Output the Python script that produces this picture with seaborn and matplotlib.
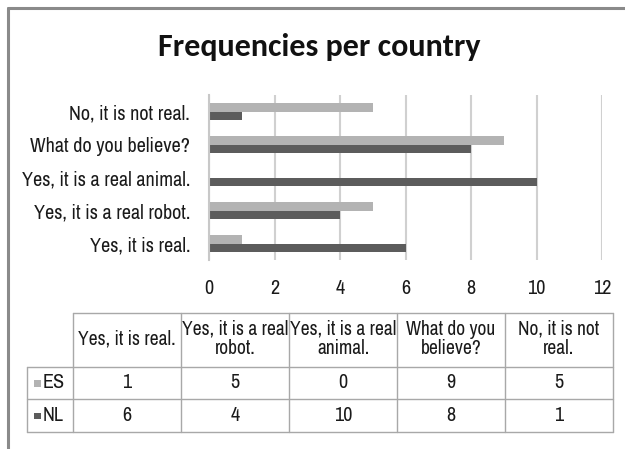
import textwrap
import matplotlib
matplotlib.use("Agg")
import matplotlib.pyplot as plt
from matplotlib.lines import Line2D
from matplotlib.patches import Rectangle
import numpy as np
import pandas as pd
import seaborn as sns

# Answers in table order (the bar chart lists them bottom-up)
answers = ["Yes, it is real.", "Yes, it is a real robot.", "Yes, it is a real animal.",
           "What do you believe?", "No, it is not real."]
countries = ["ES", "NL"]
es_counts = [1, 5, 0, 9, 5]
nl_counts = [6, 4, 10, 8, 1]
x_ticks = [0, 2, 4, 6, 8, 10, 12]

colors = {"ES": "#b3b3b3", "NL": "#5c5c5c"}
TEXT = "#1a1a1a"
FS = 14

sns.set_style("white")
plt.rcParams["font.family"] = ["Archivo Narrow", "DejaVu Sans"]

df = pd.DataFrame({
    "answer": answers * 2,
    "country": ["ES"] * len(answers) + ["NL"] * len(answers),
    "count": es_counts + nl_counts,
})

W, H = 625, 449
fig = plt.figure(figsize=(W / 100, H / 100), dpi=100)

def px_box(x0, y0, x1, y1):
    return [x0 / W, 1 - y1 / H, (x1 - x0) / W, (y1 - y0) / H]

# Bar chart
ax = fig.add_axes(px_box(209, 95, 602, 260))
sns.barplot(data=df, y="answer", x="count", hue="country",
            order=answers[::-1], hue_order=countries, palette=colors,
            width=0.52, orient="h", saturation=1, linewidth=0,
            legend=False, ax=ax)
ax.set_xlim(0, 12)
ax.set_xticks(x_ticks)
ax.set_xlabel("")
ax.set_ylabel("")
ax.xaxis.grid(True, color="#d0d0d0", linewidth=1.5)
ax.yaxis.grid(False)
ax.set_axisbelow(True)
for side in ["top", "right", "bottom"]:
    ax.spines[side].set_visible(False)
ax.spines["left"].set_color("#c8c8c8")
ax.spines["left"].set_linewidth(1.5)
ax.tick_params(axis="x", length=0, pad=13.5, labelsize=14.5, labelcolor=TEXT)
ax.tick_params(axis="y", length=0, pad=13.5, labelsize=14.5, labelcolor=TEXT)

# Overlay in pixel coordinates for frame, title and data table
ov = fig.add_axes([0, 0, 1, 1], zorder=-1)
ov.set_xlim(0, W)
ov.set_ylim(H, 0)
ov.axis("off")

frame = "#8a8a8a"
ov.add_line(Line2D([8, W], [7.5, 7.5], color=frame, lw=2.2))
ov.add_line(Line2D([8, 8], [7.5, H], color=frame, lw=2.2))

ov.text(319, 47, "Frequencies per country", ha="center", va="center",
        fontsize=23, fontweight="bold", family=["Carlito", "DejaVu Sans"], color="#111111")

# Data table
grid_c = "#a8a8a8"
col_edges = np.linspace(73, 613, len(answers) + 1)
row_label_x = 27
y_top, y_es, y_nl, y_bot = 313, 367, 399, 432

ov.add_line(Line2D([col_edges[0], col_edges[-1]], [y_top, y_top], color=grid_c, lw=1))
for yy in (y_es, y_nl, y_bot):
    ov.add_line(Line2D([row_label_x, col_edges[-1]], [yy, yy], color=grid_c, lw=1))
for xx in col_edges:
    ov.add_line(Line2D([xx, xx], [y_top, y_bot], color=grid_c, lw=1))
ov.add_line(Line2D([row_label_x, row_label_x], [y_es, y_bot], color=grid_c, lw=1))

for i, ans in enumerate(answers):
    cx = (col_edges[i] + col_edges[i + 1]) / 2
    ov.text(cx, (y_top + y_es) / 2 - 1, textwrap.fill(ans, 17), ha="center", va="center",
            fontsize=FS, color=TEXT, linespacing=1.05)
    ov.text(cx, (y_es + y_nl) / 2, str(es_counts[i]), ha="center", va="center",
            fontsize=14.5, color=TEXT)
    ov.text(cx, (y_nl + y_bot) / 2, str(nl_counts[i]), ha="center", va="center",
            fontsize=14.5, color=TEXT)

for name, (r0, r1) in zip(countries, [(y_es, y_nl), (y_nl, y_bot)]):
    cy = (r0 + r1) / 2
    ov.add_patch(Rectangle((34, cy - 3), 6.5, 6.5, color=colors[name], lw=0))
    ov.text(43, cy, name, ha="left", va="center", fontsize=14.5, color=TEXT)

fig.savefig("out.png", dpi=100)
